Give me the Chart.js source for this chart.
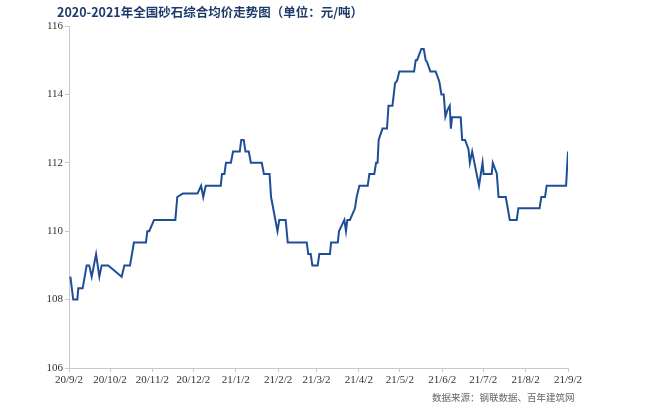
<!DOCTYPE html>
<html>
<head>
<meta charset="utf-8">
<script src="https://cdn.jsdelivr.net/npm/chart.js@4.4.0/dist/chart.umd.min.js"></script>
<style>
  body { margin: 0; background: #fff; }
  #wrap { position: relative; width: 660px; height: 405px; }
  #title {
    position: absolute; left: 57px; top: 2px;
    font: bold 12.5px "Noto Sans CJK SC", sans-serif; color: #1f3a6b;
    white-space: nowrap;
  }
  #source {
    position: absolute; left: 432px; top: 390px;
    font: 9.5px "Noto Sans CJK SC", sans-serif; color: #666;
    white-space: nowrap;
  }
</style>
</head>
<body>
<div id="wrap">
  <canvas id="myChart1" width="660" height="405"></canvas>
  <div id="title">2020-2021年全国砂石综合均价走势图（单位：元/吨）</div>
  <div id="source">数据来源：钢联数据、百年建筑网</div>
</div>
<script>
// days counted from 2020/9/2
const days = [
  1, 3.1, 6.1, 6.8, 10, 12.9, 14.8, 16.6, 19.8, 22.2, 23.9, 28.7, 38.5, 40.5, 44.6, 47.5,
  56.3, 57.3, 58.7, 62.2, 77.8, 79.2, 83.2, 94, 96.6, 98.2, 100, 111, 111.9, 113.7, 114.8,
  118.4, 120, 124.9, 126, 127.8, 129.1, 131.5, 133, 141, 142.6, 146.7, 147.8, 152.5, 153.8,
  158.5, 160, 173.9, 175, 176.8, 178, 181.9, 183.1, 190.9, 191.7, 196.6, 197.5, 201.4, 202.6,
  203.6, 205.5, 209.2, 210.4, 212.4, 218.5, 219.7, 223.3, 224.6, 225.7, 226.5, 229.3, 232.6,
  233.7, 236.6, 238.5, 240, 241.6, 252.4, 253.6, 254.6, 257.7, 259.5, 260.9, 261.9, 264.3,
  268.2, 270.9, 272.4, 274.1, 275.3, 276.8, 278.5, 279.3, 280.2, 286.5, 287.6, 289.7, 292.2,
  293.2, 294.9, 299.9, 302.5, 303.3, 309.2, 310, 312.9, 314.2, 319.5, 322.4, 327.5, 328.7,
  344.2, 345.5, 348.2, 349.4, 363.6, 365
];
const prices = [
  108.67, 108, 108, 108.33, 108.33, 109, 109, 108.67, 109.33, 108.67, 109, 109, 108.67, 109, 109, 109.67,
  109.67, 110, 110, 110.33, 110.33, 111, 111.1, 111.1, 111.33, 111, 111.33, 111.33, 111.67, 111.67, 112,
  112, 112.33, 112.33, 112.67, 112.67, 112.33, 112.33, 112, 112, 111.67, 111.67, 111, 110, 110.33,
  110.33, 109.67, 109.67, 109.33, 109.33, 109, 109, 109.33, 109.33, 109.67, 109.67, 110, 110.33, 110,
  110.33, 110.33, 110.67, 111, 111.33, 111.33, 111.67, 111.67, 112, 112, 112.67, 113, 113,
  113.67, 113.67, 114.33, 114.4, 114.67, 114.67, 115, 115, 115.33, 115.33, 115, 114.95, 114.67,
  114.67, 114.37, 114, 114, 113.35, 113.54, 113.67, 113, 113.33, 113.33, 112.67, 112.67, 112.4,
  112, 112.33, 111.33, 112, 111.67, 111.67, 112, 111.69, 111, 111, 110.33, 110.33, 110.67,
  110.67, 111, 111, 111.33, 111.33, 112.33
];
const tickDays = [0, 30, 61, 91, 122, 153, 181, 212, 242, 273, 303, 334, 365];
const tickLabels = ['20/9/2', '20/10/2', '20/11/2', '20/12/2', '21/1/2', '21/2/2', '21/3/2',
  '21/4/2', '21/5/2', '21/6/2', '21/7/2', '21/8/2', '21/9/2'];

const ctx = document.getElementById('myChart1');
const myChart = new Chart(ctx, {
    type: 'line',
    data: {
        datasets: [
            {
                label: '砂石综合均价',
                data: days.map((d, i) => ({ x: d, y: prices[i] })),
                borderColor: '#1f4e96',
                backgroundColor: '#1f4e96',
                borderWidth: 2,
                pointRadius: 0,
                tension: 0
            }
        ]
    },
    options: {
        responsive: false,
        animation: false,
        layout: { padding: { top: 26, right: 92, left: 0, bottom: 0 } },
        plugins: {
            legend: { display: false },
            tooltip: { enabled: false }
        },
        scales: {
            x: {
                type: 'linear',
                min: 0,
                max: 365,
                afterBuildTicks: (scale) => { scale.ticks = tickDays.map(v => ({ value: v })); },
                afterFit: (scale) => { scale.height = 37; },
                ticks: {
                    autoSkip: false,
                    maxRotation: 0,
                    padding: 2,
                    color: '#333',
                    font: { family: 'Liberation Serif', size: 11 },
                    callback: (v) => tickLabels[tickDays.indexOf(v)]
                },
                grid: { display: true, drawOnChartArea: false, tickLength: 4, color: '#c8c8c8' },
                border: { display: true, color: '#c8c8c8' }
            },
            y: {
                min: 106,
                max: 116,
                afterFit: (scale) => { scale.width = 69; },
                ticks: {
                    stepSize: 2,
                    padding: 2,
                    color: '#333',
                    font: { family: 'Liberation Serif', size: 11 }
                },
                grid: { display: true, drawOnChartArea: false, tickLength: 4, color: '#c8c8c8' },
                border: { display: true, color: '#c8c8c8' }
            }
        }
    }
});
</script>
</body>
</html>
